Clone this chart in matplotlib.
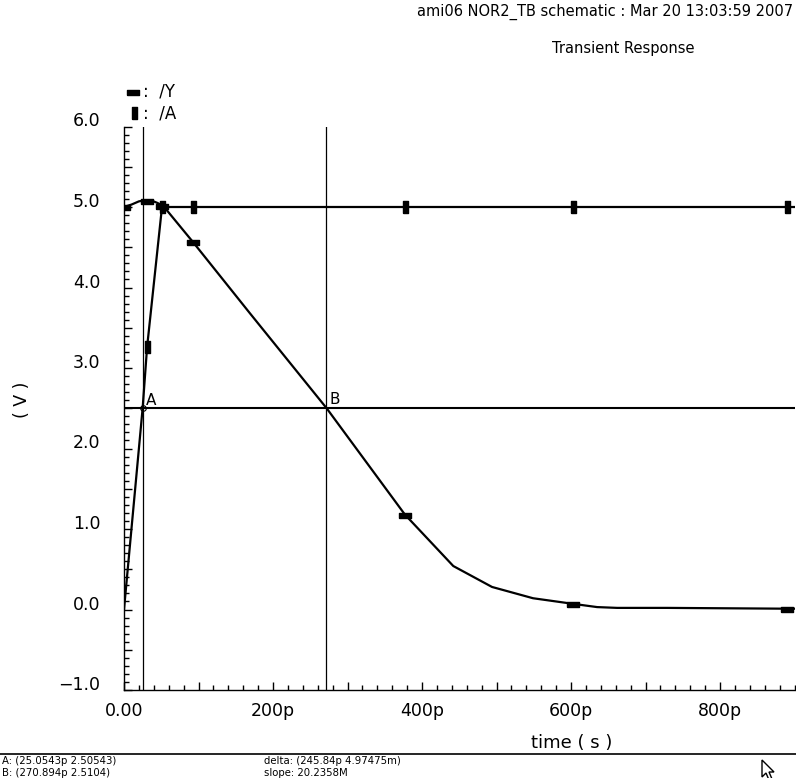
import numpy as np
import matplotlib
matplotlib.use('Agg')
import matplotlib.pyplot as plt
from matplotlib.lines import Line2D
from matplotlib.patches import Polygon

# dados (tempo em ps, tensao em V)
t_y = [0, 10, 20, 26, 37, 45, 53, 93, 169, 272, 377, 442, 494, 549, 603, 635, 662, 729, 890, 900]
v_y = [5.00, 5.03, 5.07, 5.08, 5.08, 5.05, 5.01, 4.56, 3.68, 2.50, 1.18, 0.54, 0.28, 0.14, 0.07, 0.03, 0.02, 0.02, 0.01, 0.01]

t_a = [0, 25.05, 31, 51, 93, 377, 603, 890, 900]
v_a = [0.0, 2.505, 3.26, 5.0, 5.0, 5.0, 5.0, 5.0, 5.0]

# marcadores de cada curva
mk_t_y = [0, 31, 51, 93, 377, 603, 890]
mk_v_y = [5.00, 5.08, 5.01, 4.56, 1.18, 0.07, 0.01]
mk_t_a = [31, 51, 93, 377, 603, 890]
mk_v_a = [3.26, 5.0, 5.0, 5.0, 5.0, 5.0]

cursor_a = (25.0543, 2.50543)
cursor_b = (270.894, 2.5104)

xticks = [0, 100, 200, 300, 400, 500, 600, 700, 800]
xlabels = ['0.00', '', '200p', '', '400p', '', '600p', '', '800p']
yticks = [-1, -0.5, 0, 0.5, 1, 1.5, 2, 2.5, 3, 3.5, 4, 4.5, 5, 5.5, 6]
ylabels = ['\u22121.0', '', '0.0', '', '1.0', '', '2.0', '', '3.0', '', '4.0', '', '5.0', '', '6.0']

W, H = 796, 778
fig = plt.figure(figsize=(W / 100, H / 100), dpi=100)
ax = fig.add_axes([124 / W, (H - 690) / H, (794.5 - 124) / W, (690 - 126.5) / H])

rect_h = [(-1, -0.45), (1, -0.45), (1, 0.45), (-1, 0.45), (-1, -0.45)]
rect_v = [(-0.45, -1), (0.45, -1), (0.45, 1), (-0.45, 1), (-0.45, -1)]

ax.plot(t_y, v_y, color='black', lw=1.6)
ax.plot(t_a, v_a, color='black', lw=1.6)
ax.plot(mk_t_y, mk_v_y, ls='none', marker=rect_h, ms=8, color='black')
ax.plot(mk_t_a, mk_v_a, ls='none', marker=rect_v, ms=8, color='black')

# cursores
ax.axvline(cursor_a[0], color='black', lw=0.9)
ax.axvline(cursor_b[0], color='black', lw=0.9)
ax.axhline(cursor_a[1], color='black', lw=1.5)
ax.plot([cursor_a[0]], [cursor_a[1]], ls='none', marker='o', ms=4, mfc='none', mec='black', mew=0.8)
ax.annotate('A', cursor_a, xytext=(2, 0), textcoords='offset points',
            ha='left', va='bottom', fontsize=11)
ax.annotate('B', cursor_b, xytext=(3, 0), textcoords='offset points',
            ha='left', va='bottom', fontsize=11)

ax.set_xlim(0, 900)
ax.set_ylim(-1, 6)
for s in ['top', 'right']:
    ax.spines[s].set_visible(False)
for s in ['left', 'bottom']:
    ax.spines[s].set_linewidth(1.0)

ax.set_xticks(xticks)
ax.set_xticklabels(xlabels)
ax.set_xticks(np.arange(0, 901, 20), minor=True)
ax.set_yticks(yticks)
ax.set_yticklabels(ylabels)
ax.set_yticks(np.arange(-1, 6.01, 0.1), minor=True)
ax.tick_params(which='major', direction='in', length=6, width=1, labelsize=12.5)
ax.tick_params(which='minor', direction='in', length=3.5, width=1)
ax.tick_params(axis='y', which='major', pad=17)
ax.tick_params(axis='x', which='major', pad=9)
for lbl in ax.get_yticklabels():
    lbl.set_va('baseline')

# titulos e rotulos
fig.text(793 / W, 1 - 12 / H, 'ami06 NOR2_TB schematic : Mar 20 13:03:59 2007',
         ha='right', va='center', fontsize=10.5)
fig.text(623 / W, 1 - 48 / H, 'Transient Response', ha='center', va='center', fontsize=10.5)
fig.text(22 / W, 1 - 400 / H, '( V )', rotation=90, ha='center', va='center', fontsize=12.5)
fig.text(572 / W, 1 - 743 / H, 'time ( s )', ha='center', va='center', fontsize=13)

# legenda
fig.add_artist(Line2D([133 / W], [1 - 92 / H], marker=rect_h, ms=8, color='black',
                      transform=fig.transFigure))
fig.add_artist(Line2D([134 / W], [1 - 113 / H], marker=rect_v, ms=8, color='black',
                      transform=fig.transFigure))
fig.text(143 / W, 1 - 92 / H, ':  /Y', ha='left', va='center', fontsize=12)
fig.text(143 / W, 1 - 113 / H, ':  /A', ha='left', va='center', fontsize=12)

# linha e textos dos cursores embaixo
fig.add_artist(Line2D([0, 1], [1 - 754 / H, 1 - 754 / H], color='black', lw=1.2,
                      transform=fig.transFigure))
fs_cur = 7.3
fig.text(2 / W, 1 - 765.5 / H, 'A: (25.0543p 2.50543)', ha='left', va='bottom', fontsize=fs_cur)
fig.text(2 / W, 1 - 777.5 / H, 'B: (270.894p 2.5104)', ha='left', va='bottom', fontsize=fs_cur)
fig.text(264 / W, 1 - 765.5 / H, 'delta: (245.84p 4.97475m)', ha='left', va='bottom', fontsize=fs_cur)
fig.text(264 / W, 1 - 777.5 / H, 'slope: 20.2358M', ha='left', va='bottom', fontsize=fs_cur)

# ponteiro do mouse
seta = [(0, 0), (0, 17), (4, 13), (7, 20), (10, 19), (7, 12), (12, 12)]
seta = [((762 + x) / W, 1 - (760 + y) / H) for x, y in seta]
fig.add_artist(Polygon(seta, closed=True, facecolor='white', edgecolor='black', lw=1,
                       transform=fig.transFigure))

fig.savefig('out.png', dpi=100)
